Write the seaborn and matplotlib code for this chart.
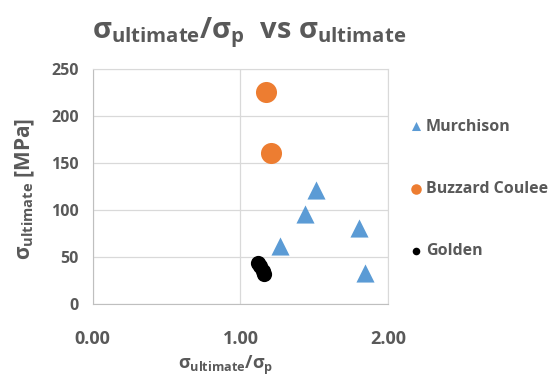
import pandas as pd
import seaborn as sns
import matplotlib.pyplot as plt

# Data
murchison_x = [1.51, 1.44, 1.80, 1.27, 1.84]
murchison_y = [121, 96, 81, 62, 33]
buzzard_x = [1.17, 1.21]
buzzard_y = [226, 161]
golden_x = [1.12, 1.13, 1.15, 1.16]
golden_y = [44, 40, 35, 32]

sites = ['Murchison', 'Buzzard Coulee', 'Golden']
colors = {'Murchison': '#5B9BD5', 'Buzzard Coulee': '#ED7D31', 'Golden': '#000000'}
markers = {'Murchison': '^', 'Buzzard Coulee': 'o', 'Golden': 'o'}
sizes = {'Murchison': 170, 'Buzzard Coulee': 230, 'Golden': 120}

df = pd.DataFrame({
    'ratio': murchison_x + buzzard_x + golden_x,
    'sult': murchison_y + buzzard_y + golden_y,
    'site': ['Murchison'] * len(murchison_x) + ['Buzzard Coulee'] * len(buzzard_x) + ['Golden'] * len(golden_x),
})

sns.set_style('white')
plt.rcParams['font.family'] = ['Open Sans', 'DejaVu Sans']
plt.rcParams['mathtext.fontset'] = 'custom'
plt.rcParams['mathtext.rm'] = 'Open Sans:bold'
plt.rcParams['mathtext.it'] = 'Open Sans:bold'
plt.rcParams['mathtext.bf'] = 'Open Sans:bold'
grey = '#595959'

fig = plt.figure(figsize=(5.49, 3.81), dpi=100)
ax = fig.add_axes([0.169, 0.202, 0.538, 0.617])

for s in sites:
    sns.scatterplot(data=df[df['site'] == s], x='ratio', y='sult', color=colors[s],
                    marker=markers[s], s=sizes[s], linewidth=0, label=s, ax=ax, zorder=3)

ax.set_xlim(0, 2)
ax.set_ylim(0, 250)
ax.set_xticks([0, 1, 2])
ax.set_xticklabels(['0.00', '1.00', '2.00'])
ax.set_yticks(range(0, 251, 50))
ax.grid(True, color='#D9D9D9', linewidth=0.9)
for side in ['top', 'right']:
    ax.spines[side].set_color('#D9D9D9')
for side in ['left', 'bottom']:
    ax.spines[side].set_color('#BFBFBF')
ax.tick_params(axis='x', labelsize=13, colors=grey, length=0, pad=19)
ax.tick_params(axis='y', labelsize=11.5, colors=grey, length=0, pad=10)
for lab in ax.get_xticklabels() + ax.get_yticklabels():
    lab.set_fontweight('bold')

ax.set_xlabel(r'$\sigma_{ultimate}/\sigma_{p}$', fontsize=13, color=grey)
ax.xaxis.set_label_coords(0.45, -0.21)
ax.set_ylabel(r'$\sigma_{ultimate}$ [MPa]', fontsize=15, color=grey, fontweight='bold')
ax.yaxis.set_label_coords(-0.19, 0.49)
fig.text(0.454, 0.915, r'$\sigma_{ultimate}/\sigma_{p}$  vs $\sigma_{ultimate}$', fontsize=21,
         color=grey, fontweight='bold', ha='center', va='center')

leg = ax.legend(loc='center left', bbox_to_anchor=(1.02, 0.49), frameon=False, labelspacing=2.9,
                handletextpad=0.1, handlelength=1.0, markerscale=0.5,
                prop={'weight': 'bold', 'size': 11.5})
for t in leg.get_texts():
    t.set_color(grey)

fig.savefig('out.png', dpi=100)
